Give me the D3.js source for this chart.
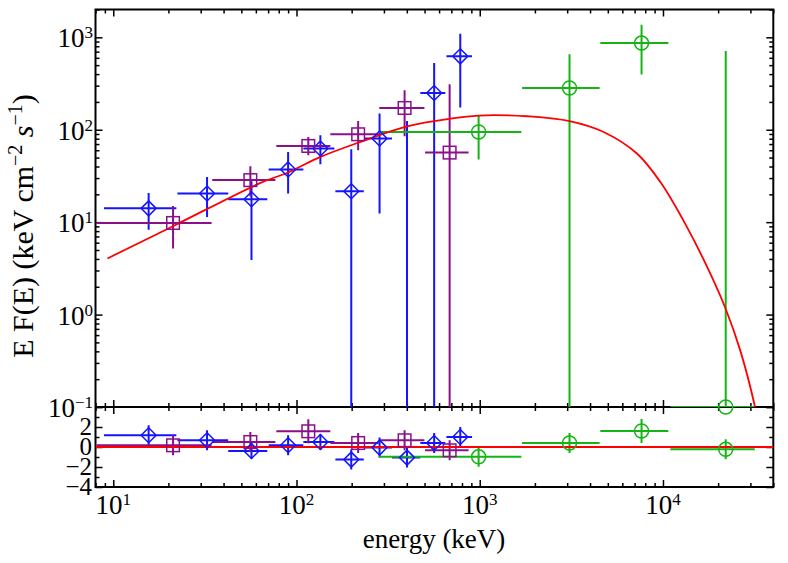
<!DOCTYPE html>
<html><head><meta charset="utf-8">
<script src="https://cdn.jsdelivr.net/npm/d3@7"></script>
<style>body{margin:0;background:#fff}svg{display:block}</style>
</head><body>
<svg id="chart" width="788" height="563"></svg>
<script>
// ---------- data ----------
// blue diamonds
const blueE    = [15.6, 32.5, 56.8, 90, 135, 199, 284, 401, 564, 783];
const blueElo  = [8.9, 22.4, 42.4, 70.5, 109, 163, 236, 332, 474, 658];
const blueEhi  = [22.1, 42.4, 69.3, 109, 161, 233, 332, 474, 649, 908];
const blueF    = [14.1, 20.4, 17.7, 37.2, 62.7, 21.6, 80.3, null, 250, 623];
const blueFlo  = [8.3, 11.4, 3.9, 20.4, 42.4, 0.001, 12.4, 0.001, 0.001, 174];
const blueFhi  = [20.7, 30.9, 27.7, 57.5, 87.3, 61.5, 150, 124, 527, 1096];
const blueRes  = [1.17, 0.67, -0.4, 0.17, 0.5, -1.26, -0.06, -1.06, 0.4, 1.0];
const blueResErr = [1, 1, 0.8, 1, 0.8, 1, 1, 1, 1, 1];
// purple squares
const purpE    = [21.2, 56, 116, 217, 389, 685];
const purpElo  = [8.1, 34.7, 77.6, 153, 283, 503];
const purpEhi  = [34.4, 76.7, 153, 281, 499, 869];
const purpF    = [9.8, 28.5, 66.8, 89.3, 172, 56.6];
const purpFlo  = [5.2, 19, 53, 60, 85, 0.001];
const purpFhi  = [15, 40.3, 83.5, 124, 267, 310];
const purpRes  = [0.17, 0.5, 1.57, 0.4, 0.67, -0.33];
const purpResErr = [1, 1, 1.2, 1, 1, 1];
// green circles
const greenE   = [986, 3090, 7640, 22000];
const greenElo = [281, 1702, 4550, 10970];
const greenEhi = [1687, 4510, 10700, 31700];
const greenF   = [94.6, 283, 867, 0.1];
const greenFlo = [47.7, 0.001, 395, 0.001];
const greenFhi = [144, 655, 1371, 711];
const greenRes = [-0.98, 0.4, 1.6, -0.23];
const greenResErr = [1, 1, 1.2, 1];
// model curve (E F(E))
const modelE = [9.3, 21.3, 63.6, 90, 135, 223, 401, 691, 986, 1190, 1810, 3090, 4740, 7210, 9660, 13500, 18100, 22000, 26400, 31800, 34000];
const modelF = [4.05, 9.1, 26.6, 34.5, 50.8, 73.8, 109, 132, 142, 144, 140, 124, 94.6, 55.3, 27.3, 8.9, 2.79, 1.15, 0.41, 0.1, 0.05];
// tick labels
const xTickExp = [1, 2, 3, 4];
const yTickExp = [-1, 0, 1, 2, 3];
const resTickVals = [2, 0, -2, -4];

// ---------- layout ----------
const L = 95.5, R = 773.3, T = 9.5, S = 407, B = 487;
const FONT = "'Liberation Serif','Times New Roman',serif";
const svg = d3.select('#chart');
svg.append('rect').attr('width', 788).attr('height', 563).attr('fill', '#fff');

const x = d3.scaleLog().domain([8, 40000]).range([L, R]);
const y = d3.scaleLog().domain([0.1, 2000]).range([S, T]);
const yr = d3.scaleLinear().domain([-4, 4]).range([B, S]);

const defs = svg.append('defs');
defs.append('clipPath').attr('id', 'clipMain').append('rect')
  .attr('x', L).attr('y', T).attr('width', R - L).attr('height', S - T);
defs.append('clipPath').attr('id', 'clipRes').append('rect')
  .attr('x', L).attr('y', S).attr('width', R - L).attr('height', B - S);

// ---------- axes (inward ticks) ----------
const isPow10 = v => Math.abs(Math.log10(v) - Math.round(Math.log10(v))) < 1e-9;
const xt = x.ticks();
const xMaj = xt.filter(isPow10), xMin = xt.filter(v => !isPow10(v));
const yt = y.ticks();
const yMaj = yt.filter(isPow10), yMin = yt.filter(v => !isPow10(v));
const rMaj = [-4, -2, 0, 2, 4], rMin = [-3, -1, 1, 3];
const MAJ = 7, MIN = 4;

function drawAxis(gen, scale, vals, size, tx, ty) {
  const g = svg.append('g').attr('transform', `translate(${tx},${ty})`)
    .call(gen(scale).tickValues(vals).tickSize(-size).tickFormat(''));
  g.select('.domain').remove();
  g.selectAll('line').attr('stroke', '#000').attr('stroke-width', 1.5);
}
// main panel
drawAxis(d3.axisBottom, x, xMaj, MAJ, 0, S);
drawAxis(d3.axisBottom, x, xMin, MIN, 0, S);
drawAxis(d3.axisTop, x, xMaj, MAJ, 0, T);
drawAxis(d3.axisTop, x, xMin, MIN, 0, T);
drawAxis(d3.axisLeft, y, yMaj, MAJ, L, 0);
drawAxis(d3.axisLeft, y, yMin, MIN, L, 0);
drawAxis(d3.axisRight, y, yMaj, MAJ, R, 0);
drawAxis(d3.axisRight, y, yMin, MIN, R, 0);
// residual panel
drawAxis(d3.axisTop, x, xMaj, MAJ, 0, S);
drawAxis(d3.axisTop, x, xMin, MIN, 0, S);
drawAxis(d3.axisBottom, x, xMaj, MAJ, 0, B);
drawAxis(d3.axisBottom, x, xMin, MIN, 0, B);
drawAxis(d3.axisLeft, yr, rMaj, MAJ, L, 0);
drawAxis(d3.axisLeft, yr, rMin, MIN, L, 0);
drawAxis(d3.axisRight, yr, rMaj, MAJ, R, 0);
drawAxis(d3.axisRight, yr, rMin, MIN, R, 0);

// frames
svg.append('rect').attr('x', L).attr('y', T).attr('width', R - L).attr('height', B - T)
  .attr('fill', 'none').attr('stroke', '#000').attr('stroke-width', 2);
svg.append('line').attr('x1', L).attr('x2', R).attr('y1', S).attr('y2', S)
  .attr('stroke', '#000').attr('stroke-width', 2);

// ---------- tick labels ----------
const fs = 27, sup = 17;
const minus = s => String(s).replace('-', '\u2212');
xTickExp.forEach(e => {
  const t = svg.append('text').attr('x', x(Math.pow(10, e))).attr('y', 514)
    .attr('text-anchor', 'middle').attr('font-family', FONT).attr('font-size', fs);
  t.append('tspan').text('10');
  t.append('tspan').attr('dy', -9).attr('font-size', sup).text(minus(e));
});
yTickExp.forEach(e => {
  const t = svg.append('text').attr('x', 93).attr('y', y(Math.pow(10, e)) + 10)
    .attr('text-anchor', 'end').attr('font-family', FONT).attr('font-size', fs);
  t.append('tspan').text('10');
  t.append('tspan').attr('dy', -9).attr('font-size', sup).text(minus(e));
});
resTickVals.forEach(v => {
  svg.append('text').attr('x', 92).attr('y', yr(v) + 8)
    .attr('text-anchor', 'end').attr('font-family', FONT).attr('font-size', 25)
    .text(minus(v));
});

// axis titles
svg.append('text').attr('x', 434).attr('y', 548).attr('text-anchor', 'middle')
  .attr('font-family', FONT).attr('font-size', fs).text('energy (keV)');
const yt2 = svg.append('text').attr('transform', 'translate(33,226) rotate(-90)')
  .attr('text-anchor', 'middle').attr('font-family', FONT).attr('font-size', 30);
yt2.append('tspan').text('E F(E) (keV cm');
yt2.append('tspan').attr('dy', -11).attr('font-size', 20).text('\u22122');
yt2.append('tspan').attr('dy', 11).text(' ');
yt2.append('tspan').attr('font-style', 'italic').text('s');
yt2.append('tspan').attr('dy', -11).attr('font-size', 20).text('\u22121');
yt2.append('tspan').attr('dy', 11).text(')');

// ---------- data series ----------
const series = [
  {color: '#1414ff', marker: 'diamond', E: blueE, lo: blueElo, hi: blueEhi, F: blueF, Flo: blueFlo, Fhi: blueFhi, res: blueRes, rerr: blueResErr},
  {color: '#8a108a', marker: 'square', E: purpE, lo: purpElo, hi: purpEhi, F: purpF, Flo: purpFlo, Fhi: purpFhi, res: purpRes, rerr: purpResErr},
  {color: '#14b414', marker: 'circle', E: greenE, lo: greenElo, hi: greenEhi, F: greenF, Flo: greenFlo, Fhi: greenFhi, res: greenRes, rerr: greenResErr}
];

const gMain = svg.append('g').attr('clip-path', 'url(#clipMain)');
const gRes = svg.append('g').attr('clip-path', 'url(#clipRes)');
const gMark = svg.append('g');

function marker(g, type, cx, cy, color) {
  if (type === 'diamond') {
    const d = 7.5;
    g.append('path').attr('d', `M${cx},${cy - d}L${cx + d},${cy}L${cx},${cy + d}L${cx - d},${cy}Z`)
      .attr('fill', 'none').attr('stroke', color).attr('stroke-width', 1.5);
  } else if (type === 'square') {
    const h = 6.3;
    g.append('rect').attr('x', cx - h).attr('y', cy - h).attr('width', 2 * h).attr('height', 2 * h)
      .attr('fill', 'none').attr('stroke', color).attr('stroke-width', 1.5);
  } else {
    g.append('circle').attr('cx', cx).attr('cy', cy).attr('r', 7)
      .attr('fill', 'none').attr('stroke', color).attr('stroke-width', 1.5);
  }
}

series.forEach(s => {
  s.E.forEach((e, i) => {
    const cx = x(e);
    // main panel
    if (s.F[i] !== null) {
      gMain.append('line').attr('x1', x(s.lo[i])).attr('x2', x(s.hi[i]))
        .attr('y1', y(s.F[i])).attr('y2', y(s.F[i]))
        .attr('stroke', s.color).attr('stroke-width', 2);
    }
    gMain.append('line').attr('x1', cx).attr('x2', cx)
      .attr('y1', y(s.Flo[i])).attr('y2', y(s.Fhi[i]))
      .attr('stroke', s.color).attr('stroke-width', 2);
    if (s.F[i] !== null && s.F[i] >= 0.1) marker(gMark, s.marker, cx, y(s.F[i]), s.color);
    // residual panel
    const ry = yr(s.res[i]);
    gRes.append('line').attr('x1', x(s.lo[i])).attr('x2', x(s.hi[i]))
      .attr('y1', ry).attr('y2', ry).attr('stroke', s.color).attr('stroke-width', 2);
    gRes.append('line').attr('x1', cx).attr('x2', cx)
      .attr('y1', yr(s.res[i] - s.rerr[i])).attr('y2', yr(s.res[i] + s.rerr[i]))
      .attr('stroke', s.color).attr('stroke-width', 2);
    marker(gMark, s.marker, cx, ry, s.color);
  });
});

// model
const modelLine = d3.line().x(d => x(d[0])).y(d => y(d[1])).curve(d3.curveCatmullRom);
gMain.append('path').datum(d3.zip(modelE, modelF)).attr('d', modelLine)
  .attr('fill', 'none').attr('stroke', '#ff0000').attr('stroke-width', 1.8);
gRes.append('path').datum([[8, 0], [40000, 0]])
  .attr('d', d3.line().x(d => x(d[0])).y(d => yr(d[1])))
  .attr('stroke', '#ff0000').attr('stroke-width', 1.8);
</script>
</body></html>
